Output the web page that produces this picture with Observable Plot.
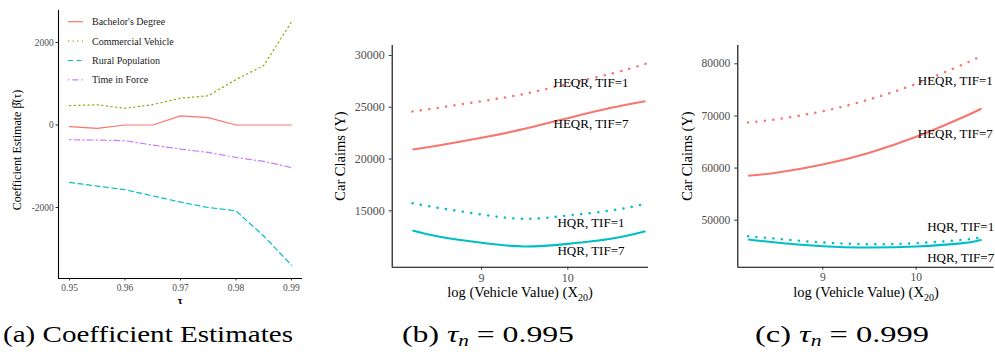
<!DOCTYPE html>
<html><head><meta charset="utf-8">
<script src="https://cdn.jsdelivr.net/npm/d3@7"></script>
<script src="https://cdn.jsdelivr.net/npm/@observablehq/plot@0.6"></script>
<style>
html,body{margin:0;padding:0;background:#fff;overflow:hidden;}
#wrap{position:relative;width:995px;height:354px;overflow:hidden;background:#fff;}
#wrap svg{overflow:visible;}
</style></head><body><div id="wrap"></div>
<script>
// ---------- Panel (a): coefficient estimates ----------
const tau = [0.95, 0.955, 0.96, 0.965, 0.97, 0.975, 0.98, 0.985, 0.99];
const bachelors = [-40, -80, 0, 0, 220, 180, 0, 0, 0];
const commercial = [470, 490, 405, 495, 650, 710, 1100, 1440, 2495];
const rural = [-1393, -1480, -1570, -1717, -1870, -2000, -2080, -2690, -3395];
const timeInForce = [-356, -365, -380, -486, -583, -664, -786, -883, -1030];
const coefNames = ["Bachelor's Degree", "Commercial Vehicle", "Rural Population", "Time in Force"];
const coefTicksX = [0.95, 0.96, 0.97, 0.98, 0.99];
const coefTicksY = [-2000, 0, 2000];

// ---------- Panel (b): tau_n = 0.995 ----------
const logVV_b = [8.2, 8.5, 9, 9.5, 10, 10.5, 10.9];
const heqr1_b = [24592, 24949, 25587, 26300, 27267, 28233, 29198];
const heqr7_b = [20921, 21308, 22050, 22920, 23950, 24950, 25590];
const hqr1_b = [15736, 15290, 14644, 14226, 14547, 15030, 15675];
const hqr7_b = [13100, 12520, 11910, 11553, 11810, 12297, 13030];
const ticksX_b = [9, 10];
const ticksY_b = [15000, 20000, 25000, 30000];

// ---------- Panel (c): tau_n = 0.999 ----------
const logVV_c = [8.2, 8.5, 9, 9.5, 10, 10.5, 10.7];
const heqr1_c = [68741, 69336, 70909, 73181, 76183, 79871, 81534];
const heqr7_c = [58512, 59105, 60673, 62960, 65997, 69745, 71437];
const hqr1_c = [46935, 46435, 45725, 45400, 45600, 46240, 46740];
const hqr7_c = [46300, 45725, 45015, 44765, 44957, 45600, 46245];
const ticksX_c = [9, 10];
const ticksY_c = [50000, 60000, 70000, 80000];

// curve labels
const curveLabels = ["HEQR, TIF=1", "HEQR, TIF=7", "HQR, TIF=1", "HQR, TIF=7"];
const labelX_b = [9.834, 9.834, 9.88, 9.88];
const labelY_b = [27392, 23433, 13804, 11167];
const labelX_c = [10.017, 10.017, 10.117, 10.117];
const labelY_c = [76797, 66574, 48660, 42714];

const captions = ["(a) Coefficient Estimates", "(b) ", "(c) "];
const captionTau = ["", "0.995", "0.999"];

// ---------- styling ----------
const red = "#F8766D", green = "#7CAE00", cyan = "#00BFC4", purple = "#C77CFF";
const tickText = "#4D4D4D", tickLine = "#333333";
const serif = "'Liberation Serif', 'Times New Roman', serif";
const wrap = document.getElementById("wrap");
function place(node, left, top) {
  node.style.position = "absolute";
  node.style.left = left + "px";
  node.style.top = top + "px";
  node.style.maxWidth = "none";
  wrap.appendChild(node);
  return node;
}
const baseStyle = {fontFamily: serif, background: "transparent", overflow: "visible"};

// ---------- Panel (a) ----------
const coefSeries = [bachelors, commercial, rural, timeInForce];
const coefColors = [red, green, cyan, purple];
const coefDash = ["none", "1.2,3.4", "5,3.5", "1.3,3,6,3"];
const xa = [0.948, 0.992], ya = [-3721, 2776];
const plotA = Plot.plot({
  width: 310, height: 310,
  marginLeft: 58, marginRight: 8, marginTop: 10, marginBottom: 32,
  x: {domain: xa}, y: {domain: ya},
  style: baseStyle,
  marks: [
    ...coefSeries.map((s, k) => Plot.line(tau.map((t, i) => ({t, v: s[i]})), {
      x: "t", y: "v", stroke: coefColors[k], strokeWidth: 1.2,
      strokeDasharray: coefDash[k], strokeLinejoin: "round"
    })),
    Plot.ruleX([xa[0]], {stroke: "#000", strokeWidth: 1.1}),
    Plot.ruleY([ya[0]], {stroke: "#000", strokeWidth: 1.1}),
    Plot.axisX({ticks: coefTicksX, tickFormat: d3.format(".2f"), tickSize: 2.5, tickPadding: 3,
      fontSize: 9.5, stroke: tickLine, fill: tickText, label: null}),
    Plot.axisY({ticks: coefTicksY, tickFormat: d => String(d), tickSize: 2.5, tickPadding: 2.2,
      fontSize: 9.5, stroke: tickLine, fill: tickText, label: null})
  ]
});
place(plotA, 0, 0);

// ---------- Panels (b) and (c) ----------
function claimsPanel(xs, h1, h7, q1, q7, xDomain, yDomain, xTicks, yTicks, lx, ly, opts) {
  const dot = {dash: "0.1,8.4", cap: "round", w: 2.5};
  const solid = {dash: "none", cap: "butt", w: 2.1};
  const series = [
    {v: h1, color: red, ...dot},
    {v: h7, color: red, ...solid},
    {v: q1, color: cyan, ...dot},
    {v: q7, color: cyan, ...solid}
  ];
  const labelRows = curveLabels.map((t, i) => ({t, x: lx[i], y: ly[i]}));
  return Plot.plot({
    width: opts.width, height: 310,
    marginLeft: opts.ml, marginRight: opts.mr, marginTop: 45, marginBottom: 43.3,
    x: {domain: xDomain}, y: {domain: yDomain},
    style: baseStyle,
    marks: [
      ...series.map(s => Plot.line(xs.map((x, i) => ({x, y: s.v[i]})), {
        x: "x", y: "y", curve: "natural", stroke: s.color, strokeWidth: s.w,
        strokeDasharray: s.dash, strokeLinecap: s.cap
      })),
      Plot.text(labelRows, {x: "x", y: "y", text: "t", textAnchor: "start", fontSize: 13, fill: "#000"}),
      Plot.ruleX([xDomain[0]], {stroke: "#000", strokeWidth: 1.1}),
      Plot.ruleY([yDomain[0]], {stroke: "#000", strokeWidth: 1.1}),
      Plot.axisX({ticks: xTicks, tickFormat: d => String(d), tickSize: 3, tickPadding: 3,
        fontSize: opts.fs, stroke: tickLine, fill: tickText, label: null}),
      Plot.axisY({ticks: yTicks, tickFormat: d => String(d), tickSize: 3, tickPadding: 4.5,
        fontSize: opts.fs, stroke: tickLine, fill: tickText, label: null})
    ]
  });
}
const plotB = claimsPanel(logVV_b, heqr1_b, heqr7_b, hqr1_b, hqr7_b,
  [7.965, 10.935], [9554, 30966], ticksX_b, ticksY_b, labelX_b, labelY_b,
  {width: 340, ml: 71.7, mr: 12, fs: 12});
place(plotB, 320, 0);
const plotC = claimsPanel(logVV_c, heqr1_c, heqr7_c, hqr1_c, hqr7_c,
  [8.09, 10.834], [40985, 83510], ticksX_c, ticksY_c, labelX_c, labelY_c,
  {width: 335, ml: 77.3, mr: 1.4, fs: 11.5});
place(plotC, 660, 0);

// ---------- Overlay: titles, legend, captions ----------
const ov = d3.create("svg").attr("width", 995).attr("height", 354)
  .style("font-family", serif).style("pointer-events", "none");
place(ov.node(), 0, 0);

// legend of panel (a)
const leg = ov.append("g");
coefNames.forEach((n, i) => {
  const y = 21.7 + i * 19.4;
  leg.append("line").attr("x1", 68).attr("x2", 83).attr("y1", y).attr("y2", y)
    .attr("stroke", coefColors[i]).attr("stroke-width", 1.2)
    .attr("stroke-dasharray", coefDash[i]);
  leg.append("text").attr("x", 92).attr("y", y).attr("dy", "0.35em")
    .attr("font-size", 10).attr("fill", "#1a1a1a").text(n);
});

// y titles
function yTitle(x, y, size, label) {
  ov.append("text").attr("transform", `translate(${x},${y}) rotate(-90)`)
    .attr("text-anchor", "middle").attr("dy", "0.35em").attr("font-size", size)
    .attr("fill", "#000").text(label);
}
yTitle(17, 150, 12, "Coefficient Estimate \u03B2\u0302(\u03C4)");
yTitle(340, 156, 14.5, "Car Claims (Y)");
yTitle(686.7, 156, 14.5, "Car Claims (Y)");

// x titles
ov.append("text").attr("x", 180).attr("y", 303.5).attr("text-anchor", "middle")
  .attr("font-size", 11).attr("font-weight", "bold").attr("fill", "#000").text("\u03C4");
function xTitle(cx) {
  const t = ov.append("text").attr("x", cx).attr("y", 297).attr("text-anchor", "middle")
    .attr("font-size", 14.5).attr("fill", "#000");
  t.append("tspan").text("log (Vehicle Value) (X");
  t.append("tspan").attr("font-size", 10).attr("dy", 3.5).text("20");
  t.append("tspan").attr("dy", -3.5).text(")");
}
xTitle(520);
xTitle(866);

// captions
const capY = 342;
ov.append("text").attr("x", 3).attr("y", capY).attr("font-size", 24).attr("fill", "#000")
  .attr("textLength", 290).attr("lengthAdjust", "spacingAndGlyphs").text(captions[0]);
[[402, 1, 172], [755, 2, 174]].forEach(([x, k, len]) => {
  const t = ov.append("text").attr("x", x).attr("y", capY).attr("font-size", 24).attr("fill", "#000")
    .attr("textLength", len).attr("lengthAdjust", "spacingAndGlyphs");
  t.append("tspan").text(captions[k] + " ");
  t.append("tspan").attr("font-style", "italic").text("\u03C4");
  t.append("tspan").attr("font-style", "italic").attr("font-size", 16).attr("dy", 4).text("n");
  t.append("tspan").attr("dy", -4).text(" = " + captionTau[k]);
});
</script></body></html>
